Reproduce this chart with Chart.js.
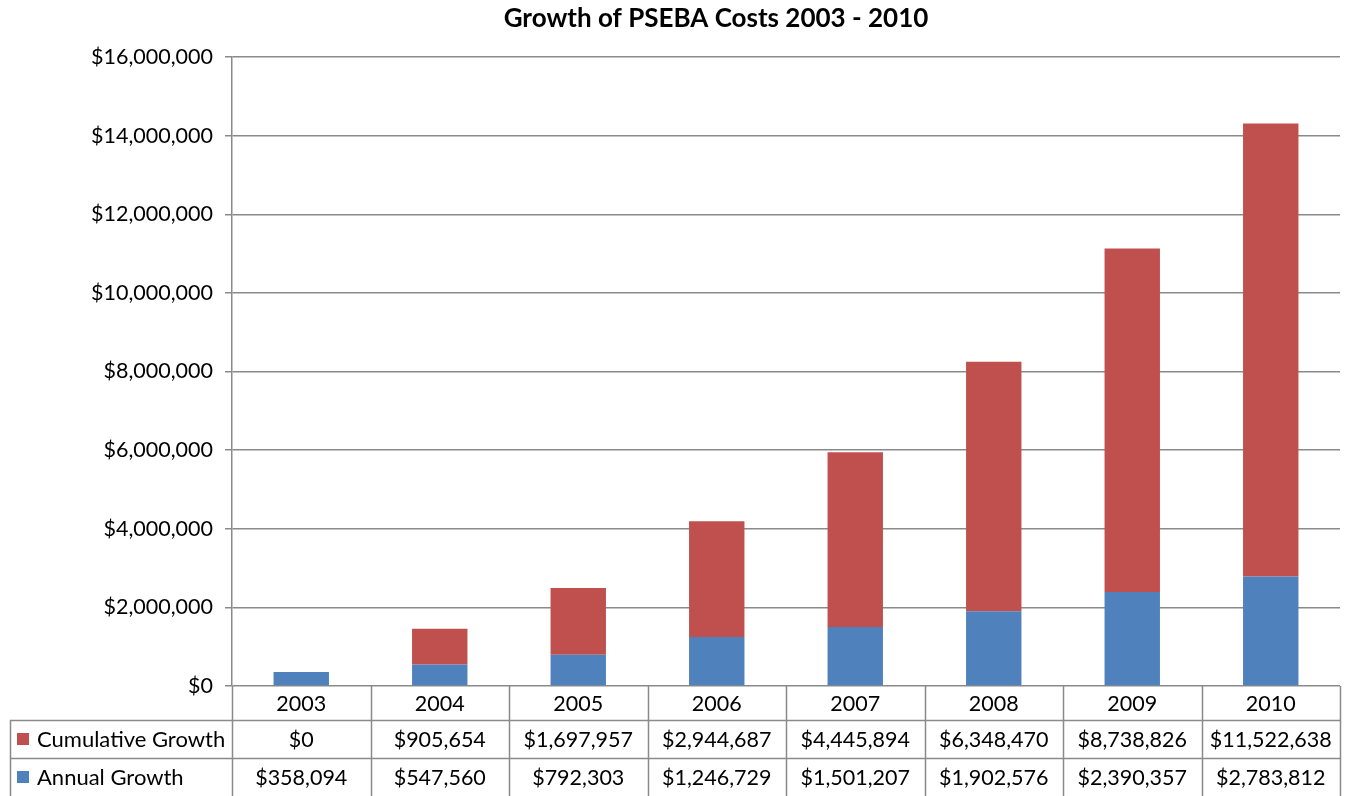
<!DOCTYPE html>
<html>
<head>
<meta charset="utf-8">
<title>Growth of PSEBA Costs 2003 - 2010</title>
<script src="https://cdn.jsdelivr.net/npm/chart.js@4"></script>
<style>
  html, body { margin: 0; padding: 0; background: #fff; }
  #wrap { width: 1348px; height: 796px; }
</style>
</head>
<body>
<div id="wrap"><canvas id="costChart" width="1348" height="796"></canvas></div>
<script>
const years = ["2003", "2004", "2005", "2006", "2007", "2008", "2009", "2010"];
const annualGrowth = [358094, 547560, 792303, 1246729, 1501207, 1902576, 2390357, 2783812];
const cumulativeGrowth = [0, 905654, 1697957, 2944687, 4445894, 6348470, 8738826, 11522638];
const yTicks = [0, 2000000, 4000000, 6000000, 8000000, 10000000, 12000000, 14000000, 16000000];
const chartTitle = "Growth of PSEBA Costs 2003 - 2010";

const FONT = "Lato, 'Open Sans', sans-serif";
const LINE = "#8a8a8a";
const BLUE = "#4f81bd";
const RED = "#c0504d";

function money(v) {
  return "$" + Number(v).toLocaleString("en-US");
}

// title sits a bit left of the plot centre, so it is drawn by hand
const titlePlugin = {
  id: "titleText",
  afterDraw(chart) {
    const ctx = chart.ctx;
    ctx.save();
    ctx.fillStyle = "#000";
    ctx.font = "bold 26px " + FONT;
    ctx.textAlign = "center";
    ctx.textBaseline = "middle";
    ctx.fillText(chartTitle, 716, 19);
    ctx.restore();
  }
};

// ================= DATA TABLE UNDER THE PLOT =================
const dataTable = {
  id: "dataTable",
  afterDraw(chart) {
    const ctx = chart.ctx;
    const x = chart.scales.x;
    const area = chart.chartArea;
    const colW = (area.right - area.left) / years.length;
    const top = area.bottom;
    const rowH = [34, 38, 38];
    const r1 = top + rowH[0];
    const r2 = r1 + rowH[1];
    const r3 = r2 + rowH[2];
    const legendLeft = 10;

    ctx.save();
    ctx.strokeStyle = LINE;
    ctx.lineWidth = 1.5;
    ctx.beginPath();
    // column borders
    for (let i = 0; i <= years.length; i++) {
      const cx = Math.round(area.left + i * colW) + 0.5;
      ctx.moveTo(cx, top);
      ctx.lineTo(cx, r3);
    }
    // row borders
    ctx.moveTo(legendLeft, r1 + 0.5);
    ctx.lineTo(area.right, r1 + 0.5);
    ctx.moveTo(legendLeft, r2 + 0.5);
    ctx.lineTo(area.right, r2 + 0.5);
    ctx.moveTo(legendLeft + 0.5, r1);
    ctx.lineTo(legendLeft + 0.5, r3);
    ctx.stroke();

    ctx.fillStyle = "#000";
    ctx.font = "21.5px " + FONT;
    ctx.textAlign = "center";
    ctx.textBaseline = "middle";
    years.forEach((yr, i) => {
      const cx = x.getPixelForValue(i);
      ctx.fillText(yr, cx, top + rowH[0] / 2 + 1);
      ctx.fillText(money(cumulativeGrowth[i]), cx, r1 + rowH[1] / 2 + 1);
      ctx.fillText(money(annualGrowth[i]), cx, r2 + rowH[2] / 2 + 1);
    });

    // series keys
    const rows = [
      { label: "Cumulative Growth", color: RED, mid: r1 + rowH[1] / 2 },
      { label: "Annual Growth", color: BLUE, mid: r2 + rowH[2] / 2 }
    ];
    ctx.textAlign = "left";
    ctx.font = "22px " + FONT;
    rows.forEach(r => {
      ctx.fillStyle = r.color;
      ctx.fillRect(legendLeft + 7, r.mid - 6, 12, 12);
      ctx.fillStyle = "#000";
      ctx.fillText(r.label, legendLeft + 27, r.mid + 1);
    });
    ctx.restore();
  }
};

const ctx = document.getElementById("costChart").getContext("2d");
new Chart(ctx, {
  type: "bar",
  data: {
    labels: years,
    datasets: [
      {
        label: "Annual Growth",
        data: annualGrowth,
        backgroundColor: BLUE,
        barPercentage: 0.4,
        categoryPercentage: 1
      },
      {
        label: "Cumulative Growth",
        data: cumulativeGrowth,
        backgroundColor: RED,
        barPercentage: 0.4,
        categoryPercentage: 1
      }
    ]
  },
  options: {
    responsive: false,
    animation: false,
    layout: { padding: { left: 0, right: 8, bottom: 110, top: 57 } },
    plugins: {
      legend: { display: false },
      tooltip: { enabled: false },
      title: { display: false }
    },
    scales: {
      x: {
        stacked: true,
        display: false
      },
      y: {
        stacked: true,
        min: 0,
        max: 16000000,
        afterBuildTicks: scale => { scale.ticks = yTicks.map(v => ({ value: v })); },
        afterFit: scale => { scale.width = 232; },
        ticks: {
          color: "#000",
          font: { family: FONT, size: 21.5 },
          padding: 12,
          callback: v => money(v)
        },
        grid: { color: LINE, lineWidth: 1.5, tickLength: 7 },
        border: { color: LINE, width: 1.5 }
      }
    }
  },
  plugins: [dataTable, titlePlugin]
});
</script>
</body>
</html>
